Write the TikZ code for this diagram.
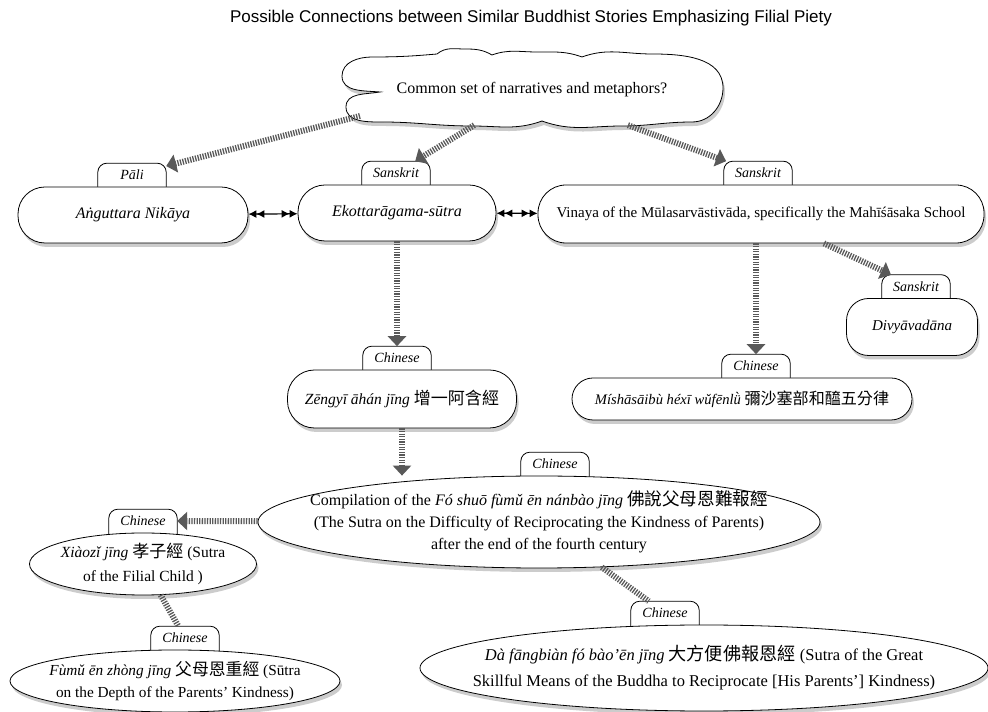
\documentclass[tikz,border=0pt]{standalone}
\usepackage{fontspec}
\setmainfont{Liberation Serif}
\newfontfamily\cjk[Scale=1.1]{Noto Sans CJK TC}
\newfontfamily\titlefont{Liberation Sans}
\usepackage{tikz}
\usetikzlibrary{arrows.meta,shapes.geometric,shadows,positioning,backgrounds}

\begin{document}
\begin{tikzpicture}[x=1pt, y=1pt, font=\fontsize{16}{22}\selectfont,
		box/.style={draw, fill=white, thick, drop shadow={opacity=0.4, shadow xshift=2pt, shadow yshift=-4pt}},
		lang/.style={font=\fontsize{14}{16}\selectfont\itshape, minimum width=68pt, minimum height=23pt, inner sep=0pt},
		hatched/.style={draw=black!65, line width=6pt, dash pattern=on 1.3pt off 1.3pt, -{Triangle[width=18pt, length=10pt]}},
		hatchline/.style={draw=black!65, line width=6pt, dash pattern=on 1.3pt off 1.3pt},
		dblarrow/.style={very thick, {Latex[length=8pt,width=8pt]Latex[length=8pt,width=8pt]}-{Latex[length=8pt,width=8pt]Latex[length=8pt,width=8pt]}}]
		\begin{pgfonlayer}{background}
			\fill[white] (0,0) rectangle (988,712);
		\end{pgfonlayer}
		\useasboundingbox (0,0) rectangle (988,712);

		\node[font=\titlefont\fontsize{17}{20}\selectfont] (title) at (531,694) {Possible Connections between Similar Buddhist Stories Emphasizing Filial Piety};

		\node[inner sep=0pt, minimum width=370pt, minimum height=70pt] (cloud) at (532,622) {Common set of narratives and metaphors?};
		\coordinate (cloud-sw) at ([shift={(-172,-26)}]cloud.center);
		% cloud outline
		\begin{pgfonlayer}{background}
			\draw[box, shift={(cloud.center)}] (-152,-2) to[out=175,in=-90] (-190,14) to[out=90,in=180] (-160,33)
				to[out=0,in=185] (-95,36) to[out=40,in=180] (-67,41) to[out=0,in=150] (-40,35)
				to[out=20,in=180] (5,38) to[out=0,in=160] (50,33) to[out=20,in=180] (120,36)
				to[out=0,in=90] (191,2) to[out=-90,in=0] (160,-32) to[out=180,in=0] (90,-36)
				to[out=180,in=-20] (10,-31) to[out=200,in=0] (-60,-36) to[out=180,in=0] (-150,-32)
				to[out=180,in=-90] (-186,-17) to[out=90,in=190] (-152,-2) -- cycle;
		\end{pgfonlayer}

		\node[box, rounded corners=27pt, minimum width=230pt, minimum height=56pt] (ang) at (133,497) {\itshape Aṅguttara Nikāya};
		\node[box, rounded corners=27pt, minimum width=198pt, minimum height=56pt] (eko) at (397,499) {\itshape Ekottarāgama-sūtra};
		\node[box, rounded corners=28pt, minimum width=446pt, minimum height=58pt, inner xsep=2pt, font=\fontsize{15}{18}\selectfont] (vin) at (761,498) {Vinaya of the Mūlasarvāstivāda, specifically the Mahīśāsaka School};
		\node[box, rounded corners=22pt, minimum width=131pt, minimum height=57pt, font=\fontsize{15}{18}\selectfont] (div) at (912,385) {\itshape Divyāvadāna};
		\node[box, rounded corners=27pt, minimum width=229pt, minimum height=58pt, font=\fontsize{15.5}{18}\selectfont] (zen) at (402,313) {\textit{Zēngyī āhán jīng} {\cjk 增一阿含經}};
		\node[box, rounded corners=21pt, minimum width=340pt, minimum height=42pt, font=\fontsize{14.6}{17}\selectfont] (mis) at (742,313) {\textit{Míshāsāibù héxī wǔfēnlǜ} {\cjk 彌沙塞部和醯五分律}};

		\node[box, ellipse, minimum width=562pt, minimum height=92pt,
			label={[align=center]center:{Compilation of the \textit{Fó shuō fùmǔ ēn nánbào jīng} {\cjk 佛說父母恩難報經}\\(The Sutra on the Difficulty of Reciprocating the Kindness of Parents)\\after the end of the fourth century}}] (comp) at (539,190) {};
		\node[box, ellipse, minimum width=227pt, minimum height=62pt,
			label={[align=center, font=\fontsize{15.5}{24}\selectfont]center:{\textit{Xiàozǐ jīng} {\cjk 孝子經} (Sutra\\of the Filial Child )}}] (xia) at (143,148) {};
		\node[box, ellipse, minimum width=330pt, minimum height=62pt,
			label={[align=center, font=\fontsize{15.3}{22}\selectfont]center:{\textit{Fùmǔ ēn zhòng jīng} {\cjk 父母恩重經} (Sūtra\\on the Depth of the Parents’ Kindness)}}] (fum) at (175,31) {};
		\node[box, ellipse, minimum width=568pt, minimum height=86pt,
			label={[align=center, font=\fontsize{16.5}{26}\selectfont]center:{\textit{Dà fāngbiàn fó bào’ēn jīng} {\cjk 大方便佛報恩經} (Sutra of the Great\\Skillful Means of the Buddha to Reciprocate [His Parents’] Kindness)}}] (dab) at (704,44) {};

		% language tabs sit behind the boxes
		\foreach \n/\t/\s in {ang/Pāli/-1, eko/Sanskrit/-1, vin/Sanskrit/-3, div/Sanskrit/4, zen/Chinese/-5, mis/Chinese/14, comp/Chinese/16, xia/Chinese/0, fum/Chinese/10, dab/Chinese/-39} {
			\node[lang, above=0pt of \n.north, xshift=\s pt] (\n-tab) {\t};
			\begin{pgfonlayer}{background}
				\draw[thick, fill=white] ([yshift=-6pt]\n-tab.south west) [rounded corners=9pt] |- (\n-tab.north) -| ([yshift=-6pt]\n-tab.south east);
			\end{pgfonlayer}
		}

		\draw[hatched] (cloud-sw) -- (ang-tab);
		\draw[hatched] (cloud) -- (eko-tab);
		\draw[hatched] (cloud) -- (vin-tab);
		\draw[dblarrow] (ang) -- (eko);
		\draw[dblarrow] (eko) -- (vin);
		\draw[hatched] (eko) -- (zen-tab);
		\draw[hatched] (mis-tab.north |- vin.south) -- (mis-tab);
		\draw[hatched] (vin) -- (div-tab);
		\draw[hatched] (zen.south) -- (zen.south |- comp.north);
		\draw[hatched] (comp) -- (xia-tab);
		\draw[hatchline] (xia) -- (fum-tab);
		\draw[hatchline] (comp) -- (dab-tab);
	\end{tikzpicture}
\end{document}
